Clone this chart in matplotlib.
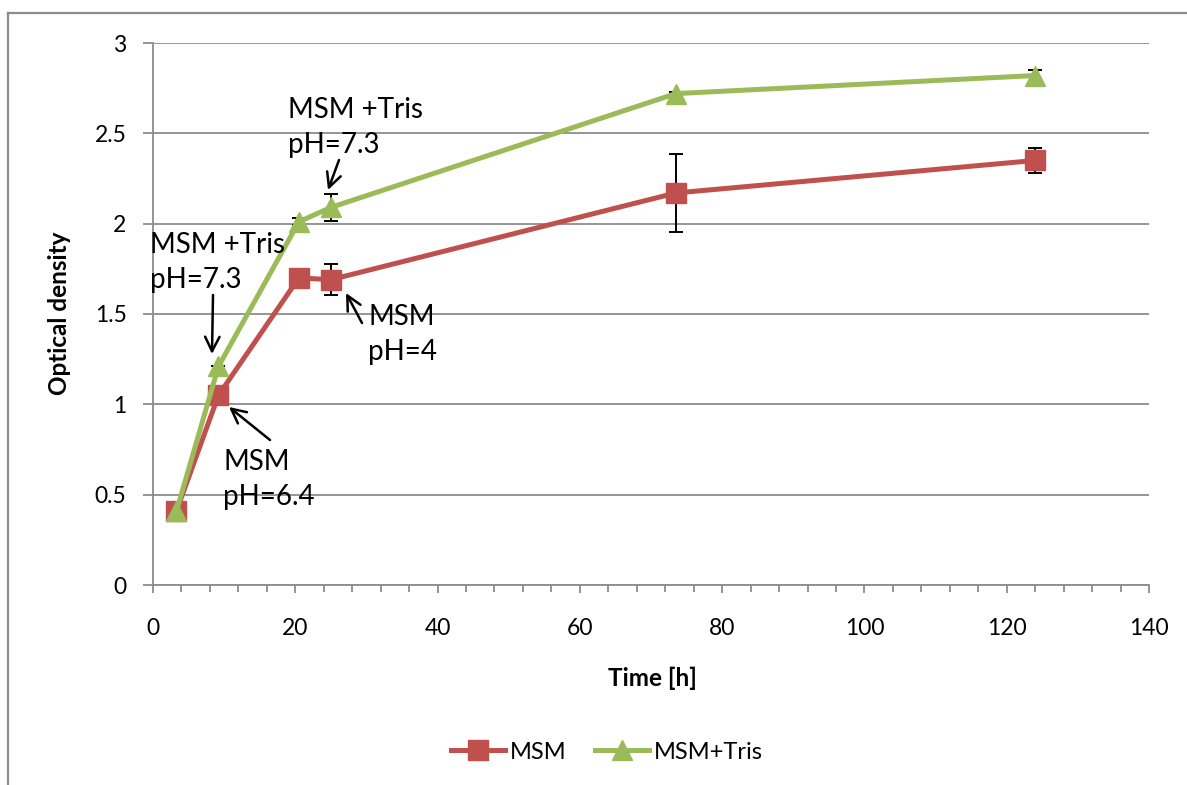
import matplotlib.pyplot as plt
from matplotlib.lines import Line2D
from matplotlib.ticker import MultipleLocator

# Data
time_h = [3.3, 9.2, 20.5, 25.0, 73.5, 124.0]
od_msm = [0.41, 1.05, 1.70, 1.69, 2.17, 2.35]
err_msm = [0.0, 0.0, 0.0, 0.085, 0.215, 0.07]
od_tris = [0.41, 1.21, 2.01, 2.09, 2.72, 2.82]
err_tris = [0.0, 0.0, 0.02, 0.075, 0.01, 0.03]

x_ticks = [0, 20, 40, 60, 80, 100, 120, 140]
y_ticks = [0, 0.5, 1, 1.5, 2, 2.5, 3]

RED = '#C0504D'
GREEN = '#9BBB59'
GRID = '#8C8C8C'

plt.rcParams['font.family'] = ['Lato', 'DejaVu Sans']

fig = plt.figure(figsize=(11.87, 7.85), dpi=100)
ax = fig.add_axes([153 / 1187, 1 - 585 / 785, 996 / 1187, 542 / 785])

# outer chart-area frame (only top and left edges are visible)
fig.add_artist(Line2D([8 / 1187, 1.01], [1 - 13 / 785] * 2, color=GRID, lw=1.6))
fig.add_artist(Line2D([8 / 1187] * 2, [-0.01, 1 - 13 / 785], color=GRID, lw=1.6))

# error bars under the series
ax.errorbar(time_h, od_msm, yerr=err_msm, fmt='none', ecolor='black',
            elinewidth=1.4, capsize=5, capthick=1.4, zorder=2)
ax.errorbar(time_h, od_tris, yerr=err_tris, fmt='none', ecolor='black',
            elinewidth=1.4, capsize=5, capthick=1.4, zorder=2)

ax.plot(time_h, od_msm, color=RED, lw=3.6, marker='s', markersize=14,
        label='MSM', zorder=3)
ax.plot(time_h, od_tris, color=GREEN, lw=3.6, marker='^', markersize=15,
        label='MSM+Tris', zorder=4)

ax.set_xlim(0, 140)
ax.set_ylim(0, 3)
ax.set_xticks(x_ticks)
ax.set_yticks(y_ticks)
ax.set_yticklabels(['0', '0.5', '1', '1.5', '2', '2.5', '3'])
ax.xaxis.set_minor_locator(MultipleLocator(4))

ax.grid(axis='y', color=GRID, lw=1.3)
ax.set_axisbelow(True)
for side in ['top', 'right']:
    ax.spines[side].set_visible(False)
for side in ['left', 'bottom']:
    ax.spines[side].set_color(GRID)
    ax.spines[side].set_linewidth(1.3)

ax.tick_params(axis='both', which='major', direction='out', color=GRID,
               width=1.3, labelsize=16.5)
ax.tick_params(axis='x', which='major', length=6, pad=18)
ax.tick_params(axis='x', which='minor', direction='out', color=GRID,
               width=1.3, length=5)
ax.tick_params(axis='y', which='major', length=7, pad=12)

ax.set_xlabel('Time [h]', fontsize=17.5, fontweight='bold', va='center')
ax.xaxis.set_label_coords(0.501, -0.1716)
ax.set_ylabel('Optical density', fontsize=17.5, fontweight='bold', va='center')
ax.yaxis.set_label_coords(-0.0934, 0.502)

# annotations with arrows
def px(x, y):
    return ((x - 153) / 7.114, (585 - y) / 180.67)

notes = [
    ('MSM +Tris\npH=7.3', (150, 232), (213, 295), (212, 354)),
    ('MSM\npH=6.4', (223, 449), (270, 440), (229, 407)),
    ('MSM +Tris\npH=7.3', (288, 97), (339, 160), (328, 190)),
    ('MSM\npH=4', (368, 304), (362, 323), (346, 293)),
]
for label, tpos, tail, head in notes:
    ax.text(*px(*tpos), label, fontsize=20, ha='left', va='top',
            linespacing=1.45, zorder=6)
    ax.annotate('', xy=px(*head), xytext=px(*tail),
                arrowprops=dict(arrowstyle='->', color='black', lw=1.8,
                                mutation_scale=26, shrinkA=0, shrinkB=0),
                zorder=6)

fig.legend(loc='center', bbox_to_anchor=(0.511, 0.042), ncol=2, frameon=False,
           fontsize=17, handlelength=2.3, handletextpad=0.2, columnspacing=1.2)

fig.savefig('out.png', dpi=100)
